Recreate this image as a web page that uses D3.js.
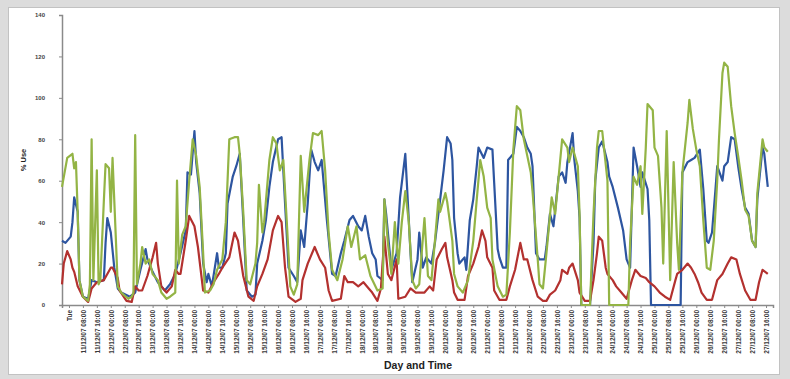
<!DOCTYPE html>
<html>
<head>
<meta charset="utf-8">
<script src="https://cdn.jsdelivr.net/npm/d3@7"></script>
<style>
  body { margin: 0; background: #dcdcdc; font-family: Arial, "Liberation Sans", sans-serif; }
</style>
</head>
<body>
<div id="chart"></div>
<script>
// category labels on the time axis (one every 8 hours)
const timeLabels = [
  "Tue", "11/12/07 08:00", "11/12/07 16:00",
  "12/12/07 00:00", "12/12/07 08:00", "12/12/07 16:00",
  "13/12/07 00:00", "13/12/07 08:00", "13/12/07 16:00",
  "14/12/07 00:00", "14/12/07 08:00", "14/12/07 16:00",
  "15/12/07 00:00", "15/12/07 08:00", "15/12/07 16:00",
  "16/12/07 00:00", "16/12/07 08:00", "16/12/07 16:00",
  "17/12/07 00:00", "17/12/07 08:00", "17/12/07 16:00",
  "18/12/07 00:00", "18/12/07 08:00", "18/12/07 16:00",
  "19/12/07 00:00", "19/12/07 08:00", "19/12/07 16:00",
  "20/12/07 00:00", "20/12/07 08:00", "20/12/07 16:00",
  "21/12/07 00:00", "21/12/07 08:00", "21/12/07 16:00",
  "22/12/07 00:00", "22/12/07 08:00", "22/12/07 16:00",
  "23/12/07 00:00", "23/12/07 08:00", "23/12/07 16:00",
  "24/12/07 00:00", "24/12/07 08:00", "24/12/07 16:00",
  "25/12/07 00:00", "25/12/07 08:00", "25/12/07 16:00",
  "26/12/07 00:00", "26/12/07 08:00", "26/12/07 16:00",
  "27/12/07 00:00", "27/12/07 08:00", "27/12/07 16:00"
];
const yTicks = [0, 20, 40, 60, 80, 100, 120, 140];

// [hour, % use]
const blueUse = [[0,31],[2,30],[5,33],[6,40],[7,52],[9,45],[10,12],[12,4],[15,3],[17,12],[20,11],[24,12],[25,30],[26,42],[28,35],[30,18],[32,8],[34,6],[39,4],[42,6],[45,17],[48,27],[49,22],[52,16],[55,11],[59,7],[62,10],[65,15],[68,25],[71,36],[72,64],[74,63],[76,84],[77,69],[79,54],[81,20],[83,11],[84,15],[86,9],[89,25],[90,18],[92,18],[94,25],[95,49],[98,62],[100,67],[102,73],[104,41],[106,7],[109,4],[111,5],[112,20],[115,31],[117,41],[119,57],[121,69],[124,80],[126,81],[128,49],[130,18],[133,14],[135,11],[137,36],[139,28],[141,49],[143,75],[145,69],[147,65],[149,70],[152,41],[155,15],[157,14],[160,25],[162,31],[165,41],[167,43],[170,38],[172,36],[174,43],[176,33],[178,25],[180,22],[181,14],[184,12],[185,51],[186,44],[189,17],[192,25],[194,52],[197,73],[198,57],[200,25],[201,11],[204,22],[205,35],[207,18],[209,23],[212,20],[214,30],[217,51],[219,65],[221,81],[223,78],[224,70],[225,42],[227,25],[228,20],[231,23],[232,17],[234,41],[236,51],[238,67],[239,76],[242,71],[244,76],[247,75],[248,59],[250,27],[251,23],[253,18],[255,18],[256,70],[259,73],[261,86],[263,84],[265,81],[267,76],[269,73],[270,67],[272,25],[274,22],[277,22],[278,28],[280,44],[282,38],[285,62],[287,64],[289,59],[290,69],[293,83],[294,70],[296,55],[297,42],[298,0],[303,0],[305,30],[306,60],[308,76],[310,79],[313,69],[314,62],[316,57],[319,47],[322,36],[324,22],[326,18],[328,76],[330,67],[332,57],[333,64],[336,56],[337,41],[338,0],[355,0],[356,64],[359,69],[361,70],[363,71],[366,75],[368,56],[370,31],[371,30],[373,35],[375,56],[376,67],[379,60],[380,67],[382,69],[384,81],[386,80],[388,67],[390,56],[392,47],[394,44],[396,31],[398,28],[399,51],[402,76],[403,73],[405,57]];

const redUse = [[0,10],[1,20],[3,26],[5,22],[6,18],[7,16],[9,9],[12,4],[15,1.5],[17,8],[20,11],[24,12],[26,15],[28,18],[29,18],[32,13],[33,7],[37,2],[40,1.5],[42,9],[44,7],[46,7],[49,14],[52,23],[54,30],[55,20],[57,9],[60,6],[63,9],[65,17],[67,15],[68,15],[71,31],[73,43],[76,38],[78,28],[81,7],[84,6],[87,11],[90,15],[92,18],[96,23],[99,35],[101,31],[104,14],[107,4],[110,2],[112,9],[115,15],[118,22],[121,36],[124,43],[126,40],[128,18],[130,4],[134,1.5],[137,3],[138,12],[141,20],[145,28],[148,22],[151,18],[153,7],[155,2],[160,3],[162,14],[164,11],[167,11],[170,9],[173,11],[176,8],[178,6],[181,2],[183,8],[185,33],[187,15],[189,12],[192,22],[193,3],[197,4],[200,8],[203,6],[205,6],[208,6],[211,9],[213,7],[215,22],[218,27],[220,30],[221,23],[224,12],[225,6],[227,2.5],[231,2.5],[233,14],[236,20],[239,28],[241,36],[243,31],[244,23],[247,18],[248,7],[251,2.5],[255,2.5],[257,9],[260,17],[263,30],[265,22],[267,22],[270,12],[273,4],[276,2],[278,2],[280,5],[283,7],[286,12],[287,17],[290,15],[291,18],[293,20],[296,12],[297,6],[300,2],[303,2],[305,12],[307,25],[308,33],[310,31],[312,18],[313,15],[316,12],[318,9],[321,6],[324,3],[327,12],[329,17],[332,14],[335,13],[337,11],[340,9],[343,6],[346,4],[349,2.5],[352,12],[353,15],[356,17],[359,20],[361,18],[363,15],[365,11],[367,6],[370,2.5],[373,2.5],[376,12],[379,15],[382,20],[384,23],[387,22],[389,15],[392,7],[395,2.5],[398,2.5],[400,11],[402,17],[405,15]];

const greenUse = [[0,57],[3,71],[6,73],[7,66],[8,69],[9,45],[10,12],[12,4],[15,2],[16,10],[17,80],[18,12],[20,65],[21,10],[22,12],[24,50],[25,68],[27,66],[28,45],[29,71],[31,30],[32,9],[34,6],[38,3],[40,4],[41,6],[42,82],[43,10],[45,20],[46,28],[48,20],[50,22],[52,15],[55,12],[57,6],[60,3],[62,4],[65,6],[66,60],[67,20],[69,34],[71,38],[73,60],[75,80],[77,72],[79,57],[81,25],[82,6],[85,7],[87,10],[89,17],[92,22],[94,40],[96,80],[99,81],[101,81],[102,73],[104,45],[106,12],[108,10],[111,20],[112,30],[113,58],[115,35],[116,40],[119,70],[121,81],[123,78],[125,65],[127,70],[129,40],[131,9],[133,5],[135,10],[137,72],[139,45],[142,70],[144,83],[147,82],[149,84],[151,65],[153,35],[155,17],[158,12],[161,22],[164,38],[166,28],[169,38],[171,22],[174,24],[177,14],[181,7],[184,8],[185,51],[187,30],[189,15],[191,40],[193,20],[195,40],[197,55],[199,40],[201,12],[203,8],[205,10],[208,42],[210,14],[212,12],[214,31],[216,51],[217,45],[220,54],[221,50],[224,31],[225,15],[227,9],[230,6],[233,12],[236,31],[238,51],[240,70],[242,62],[244,47],[246,42],[247,22],[250,9],[253,4],[255,5],[257,35],[259,75],[261,96],[263,94],[265,80],[267,72],[269,64],[270,55],[273,22],[274,10],[276,8],[278,25],[281,52],[283,44],[285,62],[287,80],[290,76],[291,69],[293,76],[296,67],[297,44],[298,0],[303,0],[305,44],[307,76],[308,84],[310,84],[313,60],[314,0],[325,0],[326,30],[328,62],[330,58],[332,67],[333,44],[335,76],[336,97],[339,94],[340,76],[342,72],[344,47],[345,20],[347,84],[349,12],[351,69],[353,30],[354,17],[356,64],[359,88],[360,99],[362,85],[364,75],[366,67],[368,41],[370,18],[372,17],[374,31],[376,60],[377,80],[379,112],[380,117],[382,115],[384,96],[386,83],[388,72],[390,60],[392,46],[394,43],[396,31],[398,28],[399,54],[402,80],[403,76],[405,74]];

const W = 790, H = 379;
const margin = { top: 15, right: 17, bottom: 74, left: 62 };

const svg = d3.select("#chart").append("svg")
  .attr("width", W)
  .attr("height", H);

// gray page + white chart frame
svg.append("rect").attr("width", W).attr("height", H).attr("fill", "#dcdcdc");
svg.append("rect")
  .attr("x", 8.5).attr("y", 7.5)
  .attr("width", 771).attr("height", 367)
  .attr("fill", "#fff")
  .attr("stroke", "#c2c2c2");

const x = d3.scaleLinear()
  .domain([0, 408])
  .range([margin.left, W - margin.right]);

const y = d3.scaleLinear()
  .domain([0, 140])
  .range([H - margin.bottom, margin.top]);

const labelHours = timeLabels.map((d, i) => 4 + i * 8);

// y axis
const yAxis = svg.append("g")
  .attr("transform", `translate(${margin.left},0)`)
  .call(d3.axisLeft(y).tickValues(yTicks).tickSize(3).tickPadding(14));
yAxis.select(".domain").attr("stroke", "#8a8a8a").attr("stroke-width", 1.5);
yAxis.selectAll(".tick line").attr("stroke", "#8a8a8a");
yAxis.selectAll("text")
  .attr("font-size", 6)
  .attr("font-weight", "bold")
  .attr("fill", "#444");

// x axis
const xAxis = svg.append("g")
  .attr("transform", `translate(0,${y(0)})`)
  .call(d3.axisBottom(x)
    .tickValues(labelHours)
    .tickSize(3)
    .tickFormat((d, i) => timeLabels[i]));
xAxis.select(".domain").attr("stroke", "#8a8a8a").attr("stroke-width", 1.5);
xAxis.selectAll(".tick line").attr("stroke", "#8a8a8a");
xAxis.selectAll("text")
  .attr("font-size", 6.5)
  .attr("font-weight", "bold")
  .attr("fill", "#3a3a3a")
  .attr("text-anchor", "end")
  .attr("transform", "rotate(-90)")
  .attr("x", -5)
  .attr("y", 0)
  .attr("dy", "0.35em");

// axis titles
svg.append("text")
  .attr("transform", `translate(26,${(y(0) + y(140)) / 2}) rotate(-90)`)
  .attr("text-anchor", "middle")
  .attr("font-size", 7.5)
  .attr("font-weight", "bold")
  .attr("fill", "#222")
  .text("% Use");

svg.append("text")
  .attr("x", 418)
  .attr("y", 369)
  .attr("text-anchor", "middle")
  .attr("font-size", 10.5)
  .attr("font-weight", "bold")
  .attr("fill", "#222")
  .text("Day and Time");

// series
const line = d3.line()
  .x(d => x(d[0]))
  .y(d => y(d[1]));

const series = [
  { name: "blue", data: blueUse, color: "#2d55a0" },
  { name: "red", data: redUse, color: "#b3312f" },
  { name: "green", data: greenUse, color: "#93b445" }
];

svg.selectAll(".series")
  .data(series)
  .join("path")
  .attr("class", "series")
  .attr("d", d => line(d.data))
  .attr("fill", "none")
  .attr("stroke", d => d.color)
  .attr("stroke-width", 2.2)
  .attr("stroke-linejoin", "round");
</script>
</body>
</html>
